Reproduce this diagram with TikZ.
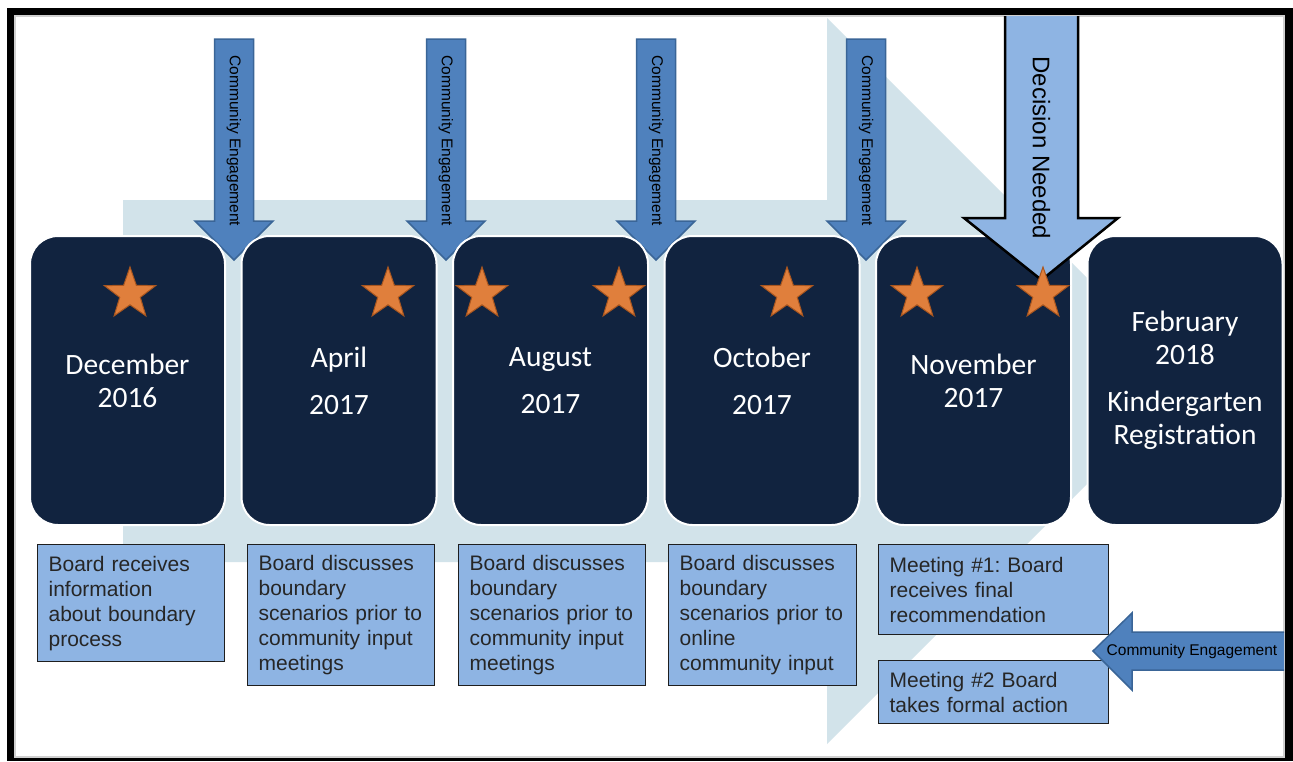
\documentclass[tikz,border=0pt]{standalone}
\usepackage{fontspec}
\setmainfont{Carlito}
\newfontfamily\arialfont{Liberation Sans}
\usetikzlibrary{shapes.geometric}
\frenchspacing
\definecolor{navy}{HTML}{11233F}
\definecolor{bgblue}{HTML}{D2E3EA}
\definecolor{ceblue}{HTML}{4F81BD}
\definecolor{ceedge}{HTML}{3A6597}
\definecolor{notefill}{HTML}{8EB4E3}
\definecolor{noteedge}{HTML}{1E1E1E}
\definecolor{notetext}{HTML}{262626}
\definecolor{starfill}{HTML}{E07F3C}
\definecolor{staredge}{HTML}{A9561F}
\definecolor{framegray}{HTML}{D0D0D0}
\begin{document}
\begin{tikzpicture}
[
    x=1pt, y=-1pt,
    month/.style={draw=white, line width=2pt, fill=navy, rounded corners=28pt, minimum width=195pt, minimum height=289pt, inner sep=0pt, text=white, align=center, font=\fontsize{29.5}{33}\selectfont},
    note/.style={draw=noteedge, line width=1.2pt, fill=notefill, anchor=north west, align=left, inner xsep=11pt, inner ysep=0pt, text=notetext, font=\arialfont\fontsize{21}{25}\selectfont},
    starmark/.style={star, star points=5, star point ratio=2.5, minimum size=54pt, inner sep=0pt, fill=starfill, draw=staredge, line width=1pt},
    cearrow/.style={fill=ceblue, draw=ceedge, line width=1.5pt},
    cetext/.style={inner sep=0pt, font=\arialfont\fontsize{15.5}{18}\selectfont},
]
\useasboundingbox (0,0) rectangle (1293,761);
% frame
\fill[black] (7,8) rectangle (1293,761);
\fill[white, draw=framegray, line width=1.5pt] (15,16) rectangle (1284,757);
% timeline arrow behind
\fill[bgblue] (123,200) -- (827,200) -- (827,18) -- (1190,381) -- (827,744) -- (827,562) -- (123,562) -- cycle;
% engagement arrows
\foreach \x/\n in {234/ceA, 446/ceB, 656/ceC, 866/ceD}
{
    \draw[cearrow] (\x-19.5,39) -- (\x+19.5,39) -- (\x+19.5,221) -- (\x+39,221) -- (\x,260) -- (\x-39,221) -- (\x-19.5,221) -- cycle;
    \node[cetext, rotate=-90] (\n) at (\x,141) {Community Engagement};
}
% months
\node[month] (dec) at (127.5,380.5) {December\\2016};
\node[month] (apr) at (339,380.5) {April\\[14pt]2017};
\node[month] (aug) at (550.5,380.5) {August\\[14pt]2017};
\node[month] (oct) at (762,380.5) {October\\[14pt]2017};
\node[month] (nov) at (973.5,380.5) {November\\2017};
\node[month] (feb) at (1185,380.5) {February\\2018\\[14pt]Kindergarten\\Registration};
% decision
\filldraw[fill=notefill, draw=black, line width=2.5pt] (1005,16) -- (1005,218) -- (964,218) -- (1041.5,280) -- (1118,218) -- (1078,218) -- (1078,16);
\node[rotate=-90, inner sep=0pt, font=\arialfont\fontsize{24}{28}\selectfont] (decision) at (1041.5,148) {Decision Needed};
% stars
\foreach \x/\n in {130/sA, 388/sB, 482/sC, 619/sD, 787/sE, 917/sF, 1043/sG}
    \node[starmark] (\n) at (\x,294) {};
% notes
\node[note, text width=165pt, minimum height=117pt] (noteA) at (37,544) {Board receives\\information\\about boundary\\process};
\node[note, text width=165pt, minimum height=141pt] (noteB) at (247,544) {Board discusses\\boundary\\scenarios prior to\\community input\\meetings};
\node[note, text width=165pt, minimum height=141pt] (noteC) at (458,544) {Board discusses\\boundary\\scenarios prior to\\community input\\meetings};
\node[note, text width=166pt, minimum height=141pt] (noteD) at (668,544) {Board discusses\\boundary\\scenarios prior to\\online\\community input};
\node[note, text width=208pt, minimum height=90pt] (noteE) at (878,544) {Meeting \#1: Board\\receives final\\recommendation};
\node[note, text width=208pt, minimum height=63pt] (noteF) at (878,660) {Meeting \#2 Board\\takes formal action};
% engagement from the side
\draw[cearrow] (1284,632) -- (1132,632) -- (1132,613) -- (1093,651) -- (1132,690) -- (1132,670) -- (1284,670);
\node[cetext] (ceE) at (1192,651) {Community Engagement};
\end{tikzpicture}
\end{document}
